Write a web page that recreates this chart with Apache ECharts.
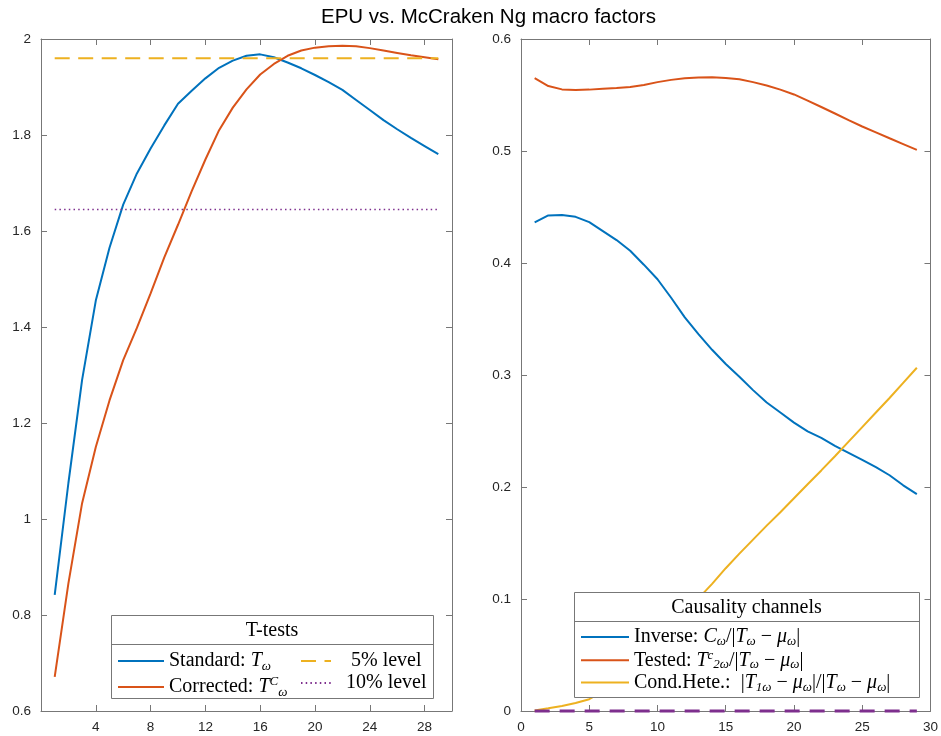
<!DOCTYPE html>
<html><head><meta charset="utf-8">
<script src="https://cdn.jsdelivr.net/npm/echarts@6/dist/echarts.min.js"></script>
<style>html,body{margin:0;padding:0;background:#fff}#c{width:941px;height:736px}</style>
</head><body><div id="c"></div>
<script>
// ---------- data ----------
const titleText = 'EPU vs. McCraken Ng macro factors';
const horizons = [1,2,3,4,5,6,7,8,9,10,11,12,13,14,15,16,17,18,19,20,21,22,23,24,25,26,27,28,29];
// left panel: T-tests
const standardT = [0.842,1.075,1.29,1.455,1.565,1.655,1.72,1.772,1.82,1.865,1.892,1.918,1.94,1.955,1.965,1.968,1.962,1.951,1.939,1.925,1.91,1.894,1.873,1.852,1.831,1.812,1.794,1.777,1.76];
const correctedT = [0.671,0.866,1.033,1.15,1.247,1.331,1.398,1.47,1.545,1.613,1.683,1.749,1.81,1.857,1.895,1.926,1.948,1.965,1.976,1.982,1.985,1.986,1.985,1.981,1.976,1.971,1.966,1.962,1.958];
const level5 = 1.96;
const level10 = 1.645;
// right panel: causality channels
const inverseCh = [0.4363,0.4425,0.4428,0.4412,0.4365,0.4285,0.4205,0.411,0.3985,0.3855,0.369,0.3515,0.3365,0.3225,0.3098,0.2985,0.2865,0.2755,0.2665,0.2575,0.2497,0.2438,0.2368,0.2305,0.2242,0.2177,0.2105,0.2015,0.1936];
const testedCh = [0.565,0.558,0.555,0.5545,0.5548,0.5555,0.5562,0.5572,0.559,0.5615,0.5635,0.565,0.5657,0.5658,0.5652,0.564,0.5615,0.5585,0.5548,0.5505,0.545,0.5393,0.5335,0.5276,0.5219,0.5167,0.5114,0.5062,0.501];
const condHeteCh = [0.0005,0.0024,0.0045,0.0071,0.0105,0.0175,0.026,0.0365,0.048,0.0605,0.0735,0.087,0.1005,0.1135,0.1275,0.1405,0.153,0.1655,0.1775,0.19,0.2025,0.2148,0.2275,0.2405,0.2535,0.2665,0.2795,0.293,0.3065];
const zeroLevel = 0;
const leftLegendTitle = 'T-tests';
const rightLegendTitle = 'Causality channels';

// ---------- helpers ----------
const AX = '#777777', LBL = '#262626';
const pairs = (ys) => horizons.map((h, i) => [h, ys[i]]);
const flat = (v) => [[horizons[0], v], [horizons[horizons.length - 1], v]];

function xAx(grid, pos, min, max, interval, showLabel, fmt) {
  return { type: 'value', gridIndex: grid, position: pos, min, max, interval,
    axisLine: { show: true, onZero: false, lineStyle: { color: AX, width: 1 } },
    axisTick: { show: true, inside: true, length: 6, lineStyle: { color: AX } },
    axisLabel: { show: showLabel, color: LBL, fontSize: 13.5, fontFamily: 'Liberation Sans', margin: 9, formatter: fmt },
    splitLine: { show: false } };
}
function yAx(grid, pos, min, max, interval, showLabel) {
  return { type: 'value', gridIndex: grid, position: pos, min, max, interval,
    axisLine: { show: true, onZero: false, lineStyle: { color: AX, width: 1 } },
    axisTick: { show: true, inside: true, length: 6, lineStyle: { color: AX } },
    axisLabel: { show: showLabel, color: LBL, fontSize: 13.5, fontFamily: 'Liberation Sans', margin: 10 },
    splitLine: { show: false } };
}
const serif = 'Liberation Serif';
const FS = 20;
function makeRich(lh) {
  return {
    n: { fontFamily: serif, fontSize: FS, lineHeight: lh, color: '#000' },
    i: { fontFamily: serif, fontStyle: 'italic', fontSize: FS, lineHeight: lh, color: '#000' },
    s: { fontFamily: serif, fontStyle: 'italic', fontSize: 13, lineHeight: 13, verticalAlign: 'bottom', color: '#000' },
    p: { fontFamily: serif, fontStyle: 'italic', fontSize: 13, lineHeight: 13, verticalAlign: 'top', color: '#000' },
    g15: { width: 15 },
    g10: { width: 10 }
  };
}
const legendText = {
  'Standard': '{n|Standard: }{i|T}{s|ω}',
  'Corrected': '{n|Corrected: }{i|T}{p|C}{s|ω}',
  '5% level': '{g15| }{n|5% level}',
  '10% level': '{g10| }{n|10% level}',
  'Inverse': '{n|Inverse: }{i|C}{s|ω}{n|/|}{i|T}{s|ω}{n| − }{i|μ}{s|ω}{n||}',
  'Tested': '{n|Tested: }{i|T}{p|c}{s|2ω}{n|/|}{i|T}{s|ω}{n| − }{i|μ}{s|ω}{n||}',
  'Cond.Hete.': '{n|Cond.Hete.:  |}{i|T}{s|1ω}{n| − }{i|μ}{s|ω}{n||/|}{i|T}{s|ω}{n| − }{i|μ}{s|ω}{n||}'
};
function legend(names, left, top, itemWidth, gap, lh) {
  return { data: names, orient: 'vertical', left, top, itemWidth, itemHeight: 14, itemGap: gap,
    padding: 0, selectedMode: false, z: 60,
    itemStyle: { color: 'rgba(0,0,0,0)', borderWidth: 0, opacity: 0 },
    textStyle: { fontFamily: serif, fontSize: FS, color: '#000', rich: makeRich(lh) },
    formatter: (name) => legendText[name] };
}
function line(name, xi, data, color, width, type, extra) {
  return Object.assign({ type: 'line', name, xAxisIndex: xi, yAxisIndex: xi, data,
    symbol: 'none', showSymbol: false, silent: true,
    lineStyle: { color, width, type: type || 'solid' }, itemStyle: { color } }, extra || {});
}
function box(x, y, w, h, sepY, title) {
  return [
    { type: 'rect', z: 50, shape: { x: x + 0.5, y: y + 0.5, width: w, height: h }, style: { fill: '#fff', stroke: '#777', lineWidth: 1 } },
    { type: 'line', z: 51, shape: { x1: x + 0.5, y1: sepY + 0.5, x2: x + w + 0.5, y2: sepY + 0.5 }, style: { stroke: '#777', lineWidth: 1 } },
    { type: 'text', z: 52, x: x + w / 2, y: (y + sepY) / 2 + 1, style: { text: title, textAlign: 'center', textVerticalAlign: 'middle', font: FS + 'px "Liberation Serif"', fill: '#000' } }
  ];
}

// ---------- chart ----------
const chart = echarts.init(document.getElementById('c'), null, { renderer: 'canvas' });
chart.setOption({
  animation: false,
  backgroundColor: '#fff',
  title: { text: titleText, left: 316, top: 2,
    textStyle: { fontSize: 20.5, fontWeight: 'normal', color: '#000', fontFamily: 'Liberation Sans' } },
  grid: [
    { left: 41, top: 39, width: 411, height: 672 },
    { left: 521, top: 39, width: 411, height: 672 }
  ],
  xAxis: [
    xAx(0, 'bottom', 0, 30, 4, true, (v) => (v === 0 || v === 30) ? '' : String(v)),
    xAx(0, 'top', 0, 30, 4, false),
    xAx(1, 'bottom', 0, 30, 5, true),
    xAx(1, 'top', 0, 30, 5, false)
  ],
  yAxis: [
    yAx(0, 'left', 0.6, 2, 0.2, true),
    yAx(0, 'right', 0.6, 2, 0.2, false),
    yAx(1, 'left', 0, 0.6, 0.1, true),
    yAx(1, 'right', 0, 0.6, 0.1, false)
  ],
  legend: [
    legend(['Standard', 'Corrected'], 117, 651, 46, 2, 24),
    legend(['5% level', '10% level'], 300, 651, 30, 2, 24),
    legend(['Inverse', 'Tested', 'Cond.Hete.'], 580, 627, 48, 1.3, 22)
  ],
  series: [
    line('Standard', 0, pairs(standardT), '#0072BD', 2),
    line('Corrected', 0, pairs(correctedT), '#D95319', 2),
    line('5% level', 0, flat(level5), '#EDB120', 2, [15, 8.5]),
    line('10% level', 0, flat(level10), '#7E2F8E', 1.5, [1.5, 3.2]),
    line('Inverse', 2, pairs(inverseCh), '#0072BD', 2),
    line('Tested', 2, pairs(testedCh), '#D95319', 2),
    line('Cond.Hete.', 2, pairs(condHeteCh), '#EDB120', 2),
    line('zero', 2, flat(zeroLevel), '#7E2F8E', 3, [15, 10], { clip: false, z: 3 })
  ],
  graphic: [].concat(
    box(111, 615, 322, 83, 644, leftLegendTitle),
    box(574, 592, 345, 105, 621, rightLegendTitle)
  )
});
</script>
</body></html>
